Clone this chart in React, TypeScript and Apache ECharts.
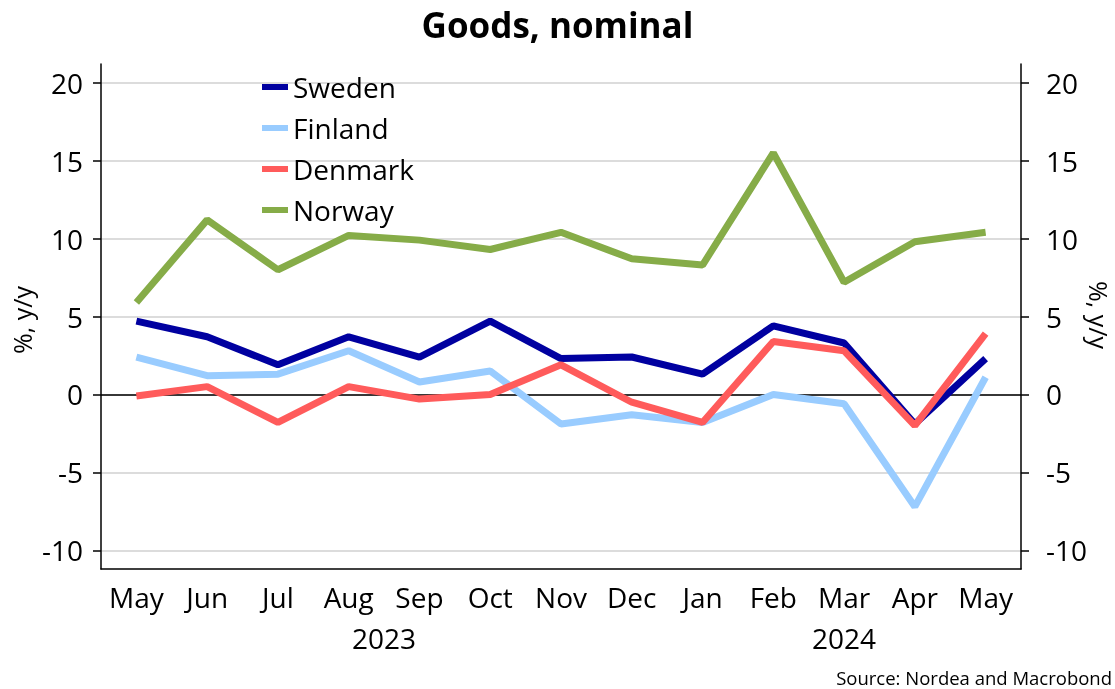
import React, { useEffect, useRef } from 'react';
import * as echarts from 'echarts';

const months = ['May', 'Jun', 'Jul', 'Aug', 'Sep', 'Oct', 'Nov', 'Dec', 'Jan', 'Feb', 'Mar', 'Apr', 'May'];
const yearLabels = ['2023', '2024'];
const yearStart = [0, 8];
const yearEnd = [7, 12];
const sweden = [4.7, 3.7, 1.9, 3.7, 2.4, 4.7, 2.3, 2.4, 1.3, 4.4, 3.3, -1.9, 2.3];
const finland = [2.4, 1.2, 1.3, 2.8, 0.8, 1.5, -1.9, -1.3, -1.8, 0.0, -0.6, -7.2, 1.1];
const denmark = [-0.1, 0.5, -1.8, 0.5, -0.3, 0.0, 1.9, -0.5, -1.8, 3.4, 2.8, -2.0, 3.9];
const norway = [5.9, 11.2, 8.0, 10.2, 9.9, 9.3, 10.4, 8.7, 8.3, 15.5, 7.2, 9.8, 10.4];
const yTicks = [-10, -5, 0, 5, 10, 15, 20];
const axisTitle = '%, y/y';

const FONT = "'Open Sans', 'Noto Sans', sans-serif";
const LABEL_SIZE = 28;

export default function App() {
  const ref = useRef<HTMLDivElement>(null);
  useEffect(() => {
    const chart = echarts.init(ref.current!, null, { renderer: 'svg' });
    const yBase = {
      type: 'value',
      min: -11.2,
      max: 21.2,
      axisLine: { show: true, lineStyle: { color: '#000', width: 1.5 } },
      axisTick: { show: true, length: 8, customValues: yTicks, lineStyle: { color: '#000', width: 1.5 } },
    };
    const lineSeries = (name: string, data: number[], color: string, extra: any = {}) => ({
      name,
      type: 'line',
      data,
      symbol: 'none',
      lineStyle: { color, width: 7 },
      itemStyle: { color },
      ...extra,
    });
    chart.setOption({
      animation: false,
      textStyle: { fontFamily: FONT },
      title: {
        text: 'Goods, nominal',
        left: 'center',
        top: 2,
        textStyle: { fontSize: 35, fontWeight: 'bold', color: '#000', fontFamily: FONT },
      },
      legend: {
        orient: 'vertical',
        left: 262,
        top: 72,
        padding: 0,
        itemWidth: 26,
        itemHeight: 6,
        itemGap: 11,
        icon: 'rect',
        textStyle: { fontSize: LABEL_SIZE, lineHeight: 30, color: '#000', fontFamily: FONT },
        data: ['Sweden', 'Finland', 'Denmark', 'Norway'],
      },
      grid: { left: 101, right: 94, top: 64, bottom: 120, containLabel: false, outerBoundsMode: 'none' },
      xAxis: {
        type: 'category',
        data: months,
        boundaryGap: true,
        axisLine: { onZero: false, lineStyle: { color: '#000', width: 1.5 } },
        axisTick: { length: 5, lineStyle: { color: '#000', width: 1.5 } },
        axisLabel: { fontSize: LABEL_SIZE, color: '#000', margin: 14, fontFamily: FONT, interval: 0 },
      },
      yAxis: [
        {
          ...yBase,
          position: 'left',
          axisLabel: { customValues: yTicks, fontSize: LABEL_SIZE, color: '#000', margin: 18, fontFamily: FONT },
          splitLine: { show: true, lineStyle: { color: '#d0d0d0', width: 1.5 } },
        },
        {
          ...yBase,
          position: 'right',
          axisLabel: { customValues: yTicks, fontSize: LABEL_SIZE, color: '#000', margin: 25, fontFamily: FONT },
          splitLine: { show: false },
        },
      ],
      series: [
        lineSeries('Sweden', sweden, '#0000a0', {
          markLine: {
            silent: true,
            symbol: ['none', 'none'],
            label: { show: false },
            lineStyle: { color: '#000', width: 1.5, type: 'solid' },
            data: [{ yAxis: 0 }],
            z: 1,
          },
        }),
        lineSeries('Finland', finland, '#99ccff'),
        lineSeries('Denmark', denmark, '#ff5b5b'),
        lineSeries('Norway', norway, '#86ac48'),
      ],
    });
    const yearGraphics = yearLabels.map((label, i) => {
      const a = chart.convertToPixel({ xAxisIndex: 0 }, yearStart[i]) as number;
      const b = chart.convertToPixel({ xAxisIndex: 0 }, yearEnd[i]) as number;
      return {
        type: 'text',
        x: (a + b) / 2,
        y: 638,
        style: {
          text: label,
          fontSize: LABEL_SIZE,
          fill: '#000',
          fontFamily: FONT,
          textAlign: 'center',
          textVerticalAlign: 'middle',
        },
      };
    });
    chart.setOption({
      graphic: [
        ...yearGraphics,
        {
          type: 'text',
          x: 22,
          y: 320,
          rotation: Math.PI / 2,
          style: {
            text: axisTitle,
            fontSize: 25,
            fill: '#000',
            fontFamily: FONT,
            textAlign: 'center',
            textVerticalAlign: 'middle',
          },
        },
        {
          type: 'text',
          x: 1099,
          y: 315,
          rotation: -Math.PI / 2,
          style: {
            text: axisTitle,
            fontSize: 25,
            fill: '#000',
            fontFamily: FONT,
            textAlign: 'center',
            textVerticalAlign: 'middle',
          },
        },
        {
          type: 'text',
          right: 3,
          bottom: 2,
          style: { text: 'Source: Nordea and Macrobond', fontSize: 18.5, fill: '#000', fontFamily: FONT },
        },
      ],
    });
    return () => chart.dispose();
  }, []);
  return <div ref={ref} style={{ position: 'fixed', left: 0, top: 0, width: 1115, height: 689 }} />;
}
